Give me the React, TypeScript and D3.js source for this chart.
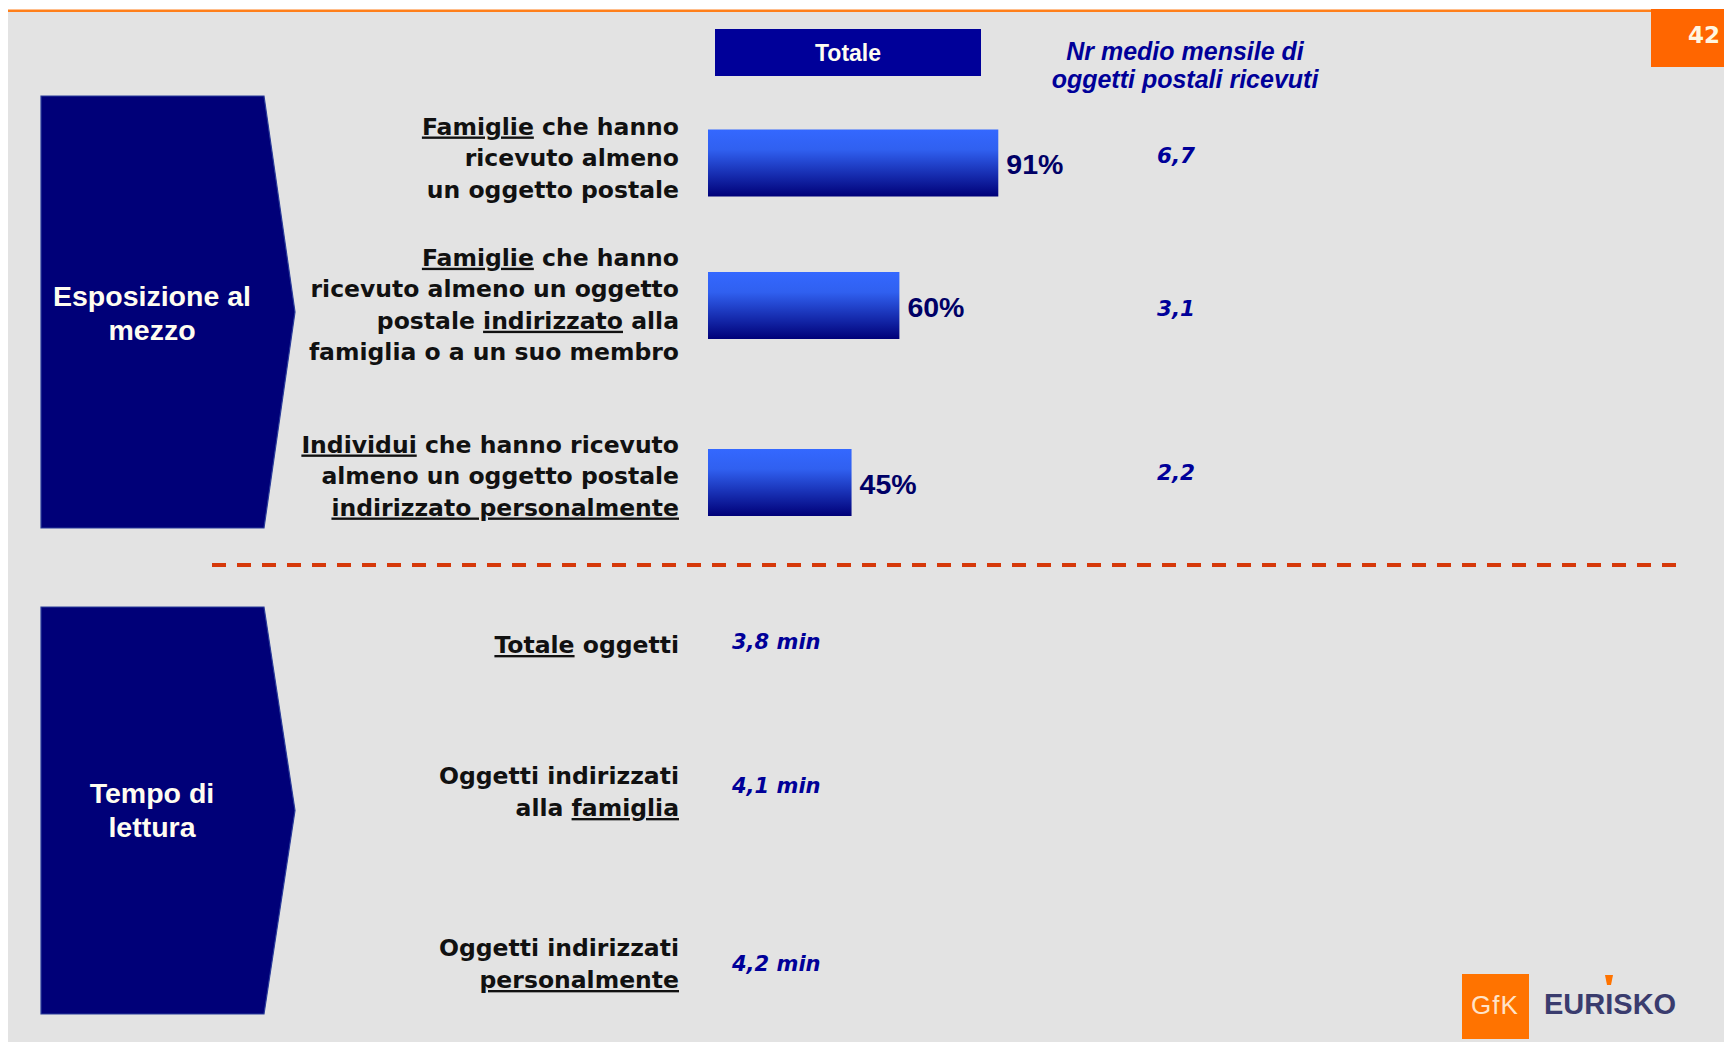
import React from "react";
import * as d3 from "d3";

// ---------- DATA ----------
type Seg = [string, boolean];
const exposureCategories = ["famiglieAlmenoUno", "famiglieIndirizzato", "individuiPersonale"];
const exposureLabelLines: Seg[][][] = [
  [[["Famiglie", true], [" che hanno", false]], [["ricevuto almeno", false]], [["un oggetto postale", false]]],
  [
    [["Famiglie", true], [" che hanno", false]],
    [["ricevuto almeno un oggetto", false]],
    [["postale ", false], ["indirizzato", true], [" alla", false]],
    [["famiglia o a un suo membro", false]],
  ],
  [
    [["Individui", true], [" che hanno ricevuto", false]],
    [["almeno un oggetto postale", false]],
    [["indirizzato personalmente", true]],
  ],
];
const exposurePct = [91, 60, 45];
const monthlyItems = [6.7, 3.1, 2.2];

const readingCategories = ["totale", "famiglia", "personale"];
const readingLabelLines: Seg[][][] = [
  [[["Totale", true], [" oggetti", false]]],
  [[["Oggetti indirizzati", false]], [["alla ", false], ["famiglia", true]]],
  [[["Oggetti indirizzati", false]], [["personalmente", true]]],
];
const readingMinutes = [3.8, 4.1, 4.2];

const sectionTitles = [["Esposizione al", "mezzo"], ["Tempo di", "lettura"]];
const legendLabel = "Totale";
const headerLines = ["Nr medio mensile di", "oggetti postali ricevuti"];
const pageNumber = "42";

// ---------- LAYOUT ----------
const W = 1724;
const H = 1042;
const LABEL_X = 679;
const LINE_H = 31.5;
const fmt = (v: number) => d3.format(".1f")(v).replace(".", ",");

const xBar = d3.scaleLinear().domain([0, 100]).range([708, 708 + 319]);
const yExpo = d3.scaleOrdinal<string, number>().domain(exposureCategories).range([163, 305.5, 482.5]);
const yExpoLabel = d3.scaleOrdinal<string, number>().domain(exposureCategories).range([161, 308, 479]);
const yMonthly = d3.scaleOrdinal<string, number>().domain(exposureCategories).range([163, 316, 480]);
const yRead = d3.scaleOrdinal<string, number>().domain(readingCategories).range([648, 795, 967]);
const yReadVal = d3.scaleOrdinal<string, number>().domain(readingCategories).range([649, 793, 971]);
const BAR_H = 67;

const labelFont = "'DejaVu Sans', Verdana, sans-serif";
const arialFont = "'Liberation Sans', Arial, sans-serif";

function Label({ lines, cy, lh }: { lines: Seg[][]; cy: number; lh: number }) {
  const first = cy - ((lines.length - 1) / 2) * lh + 5;
  return (
    <g>
      {lines.map((line, i) => (
        <text
          key={i}
          x={LABEL_X}
          y={first + i * lh}
          textAnchor="end"
          fontFamily={labelFont}
          fontWeight="bold"
          fontSize={23.5}
          fill="#111"
          style={{ whiteSpace: "pre" }}
        >
          {line.map(([t, u], j) => (
            <tspan key={j} style={{ textDecoration: u ? "underline" : "none" }}>
              {t}
            </tspan>
          ))}
        </text>
      ))}
    </g>
  );
}

function Chevron({ top, bottom, title, baselines }: { top: number; bottom: number; title: string[]; baselines: number[] }) {
  const mid = (top + bottom) / 2;
  const pts = [
    [41, top],
    [264, top],
    [295, mid],
    [264, bottom],
    [41, bottom],
  ];
  const line = d3.line();
  return (
    <g>
      <path d={line(pts as [number, number][]) + "Z"} fill="#000078" stroke="#2a3c9a" strokeWidth={1.2} />
      {title.map((t, i) => (
        <text
          key={i}
          x={152}
          y={baselines[i]}
          textAnchor="middle"
          fontFamily={arialFont}
          fontWeight="bold"
          fontSize={28.5}
          fill="#FFFDF0"
        >
          {t}
        </text>
      ))}
    </g>
  );
}

export default function App() {
  return (
    <svg
      width={W}
      height={H}
      style={{ position: "absolute", left: 0, top: 0, display: "block" }}
      xmlns="http://www.w3.org/2000/svg"
    >
      <defs>
        <linearGradient id="barGrad" x1="0" y1="0" x2="0" y2="1">
          <stop offset="0" stopColor="#3468FF" />
          <stop offset="0.3" stopColor="#3060F0" />
          <stop offset="1" stopColor="#000078" />
        </linearGradient>
      </defs>
      <rect x={0} y={0} width={W} height={H} fill="#ffffff" />
      <rect x={8} y={11} width={W - 8} height={H - 11} fill="#E3E3E3" />
      <rect x={8} y={9.5} width={W - 8} height={2.5} fill="#FF7F1A" />
      {/* page number */}
      <rect x={1651} y={9} width={73} height={58} fill="#FF6600" />
      <text x={1720} y={43} textAnchor="end" fontFamily={labelFont} fontWeight="bold" fontSize={23} fill="#FFF6E0">
        {pageNumber}
      </text>

      {/* legend box */}
      <rect x={715} y={29} width={266} height={47} fill="#000099" />
      <text x={848} y={61} textAnchor="middle" fontFamily={arialFont} fontWeight="bold" fontSize={23} fill="#FFFDF0">
        {legendLabel}
      </text>
      {headerLines.map((t, i) => (
        <text
          key={i}
          x={1185}
          y={60 + i * 28}
          textAnchor="middle"
          fontFamily={arialFont}
          fontWeight="bold"
          fontStyle="italic"
          fontSize={25}
          fill="#000099"
        >
          {t}
        </text>
      ))}

      {/* section chevrons */}
      <Chevron top={96} bottom={528} title={sectionTitles[0]} baselines={[306, 340]} />
      <Chevron top={607} bottom={1014} title={sectionTitles[1]} baselines={[803, 837]} />

      {/* exposure rows */}
      {exposureCategories.map((c, i) => {
        const cy = yExpo(c);
        return (
          <g key={c}>
            <Label lines={exposureLabelLines[i]} cy={yExpoLabel(c)} lh={LINE_H} />
            <rect
              x={xBar(0)}
              y={cy - BAR_H / 2}
              width={xBar(exposurePct[i]) - xBar(0)}
              height={BAR_H}
              fill="url(#barGrad)"
            />
            <text
              x={xBar(exposurePct[i]) + 8}
              y={cy + 11}
              fontFamily={arialFont}
              fontWeight="bold"
              fontSize={28.5}
              fill="#000066"
            >
              {exposurePct[i] + "%"}
            </text>
            <text
              x={1176}
              y={yMonthly(c)}
              textAnchor="middle"
              fontFamily={labelFont}
              fontWeight="bold"
              fontStyle="italic"
              fontSize={21.5}
              fill="#000099"
            >
              {fmt(monthlyItems[i])}
            </text>
          </g>
        );
      })}

      {/* dashed separator */}
      <line x1={212} x2={1686} y1={565} y2={565} stroke="#D6390A" strokeWidth={4} strokeDasharray="14 11" />

      {/* reading rows */}
      {readingCategories.map((c, i) => {
        const cy = yRead(c);
        return (
          <g key={c}>
            <Label lines={readingLabelLines[i]} cy={cy} lh={32} />
            <text
              x={732}
              y={yReadVal(c)}
              fontFamily={labelFont}
              fontWeight="bold"
              fontStyle="italic"
              fontSize={21}
              fill="#000099"
            >
              {fmt(readingMinutes[i]) + " min"}
            </text>
          </g>
        );
      })}

      {/* logo */}
      <rect x={1462} y={974} width={67} height={65} fill="#FF7300" />
      <text x={1471} y={1014} fontFamily={arialFont} fontSize={26} fill="#FFE3C8" fontWeight="300" letterSpacing={1}>
        GfK
      </text>
      <text x={1544} y={1014} fontFamily={arialFont} fontWeight="bold" fontSize={29} fill="#3A3C6E">
        EURISKO
      </text>
      <path d="M1605,975 L1613,975 L1611,985 L1607,985 Z" fill="#FF7300" />
    </svg>
  );
}
